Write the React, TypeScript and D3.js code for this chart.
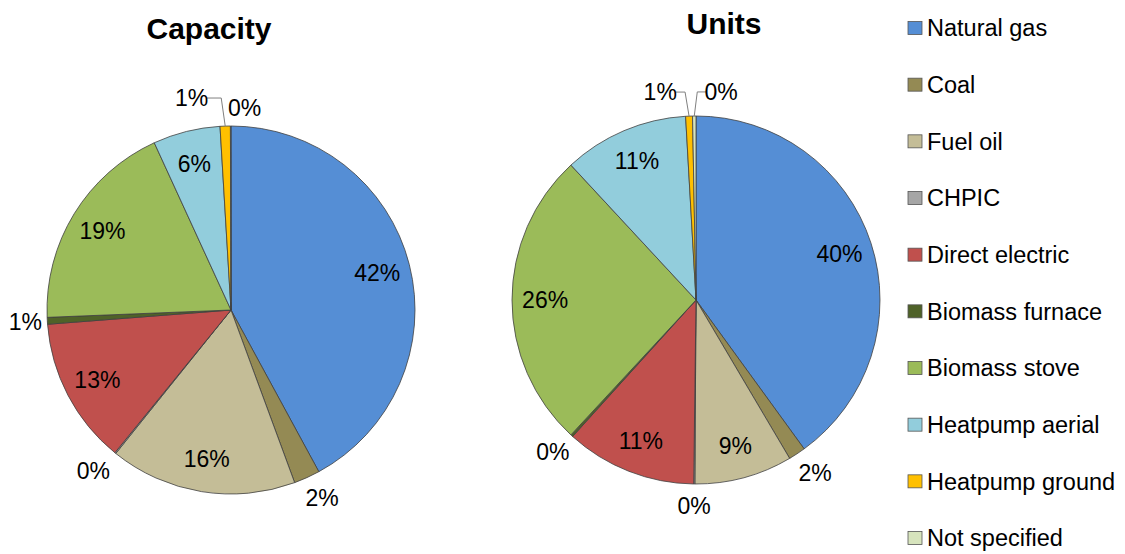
import * as d3 from "d3";

// categories in legend / slice order (clockwise from 12 o'clock)
const categories = [
  "Natural gas",
  "Coal",
  "Fuel oil",
  "CHPIC",
  "Direct electric",
  "Biomass furnace",
  "Biomass stove",
  "Heatpump aerial",
  "Heatpump ground",
  "Not specified",
];

const colors = [
  "#558ED5",
  "#948A54",
  "#C4BD97",
  "#A6A6A6",
  "#C0504D",
  "#4F6228",
  "#9BBB59",
  "#92CDDC",
  "#FFC000",
  "#D7E4BD",
];

// shares in percent
const capacityShares = [42.1, 2.3, 16.4, 0.1, 12.9, 0.6, 18.8, 5.9, 0.9, 0.05];
const unitShares = [40.0, 1.5, 8.6, 0.1, 11.5, 0.2, 26.2, 11.0, 0.6, 0.3];

const capacityLabels = ["42%", "2%", "16%", "0%", "13%", "1%", "19%", "6%", "1%", "0%"];
const unitLabels = ["40%", "2%", "9%", "0%", "11%", "0%", "26%", "11%", "1%", "0%"];

type Placement = { outside: boolean; dx?: number; dy?: number; leader?: boolean };

const capacityPlacement: Placement[] = [
  { outside: false },
  { outside: true, dx: 6 },
  { outside: false },
  { outside: true, dx: -8 },
  { outside: false },
  { outside: true },
  { outside: false },
  { outside: false },
  { outside: true, dx: -33, dy: -6, leader: true },
  { outside: true, dx: 14, dy: 4 },
];

const unitPlacement: Placement[] = [
  { outside: false },
  { outside: true, dx: 6 },
  { outside: false },
  { outside: true },
  { outside: false },
  { outside: true, dx: -4 },
  { outside: false },
  { outside: false },
  { outside: true, dx: -28, dy: -2, leader: true },
  { outside: true, dx: 27, dy: -2, leader: true },
];

const W = 1125;
const H = 554;
const R = 184;
const FONT = "'Liberation Sans', Arial, sans-serif";

type PieProps = {
  title: string;
  cx: number;
  cy: number;
  titleX: number;
  titleY: number;
  values: number[];
  labels: string[];
  placement: Placement[];
};

function Pie({ title, cx, cy, titleX, titleY, values, labels, placement }: PieProps) {
  const pie = d3
    .pie<number>()
    .sort(null)
    .value((d) => d)
    .startAngle(0)
    .endAngle(2 * Math.PI);
  const arcs = pie(values);
  const arc = d3.arc<d3.PieArcDatum<number>>().innerRadius(0).outerRadius(R);
  const inArc = d3.arc<d3.PieArcDatum<number>>().innerRadius(R * 0.82).outerRadius(R * 0.82);
  const outArc = d3.arc<d3.PieArcDatum<number>>().innerRadius(R * 1.12).outerRadius(R * 1.12);
  const edgeArc = d3.arc<d3.PieArcDatum<number>>().innerRadius(R).outerRadius(R);

  return (
    <g>
      <text
        x={titleX}
        y={titleY}
        textAnchor="middle"
        fontFamily={FONT}
        fontWeight="bold"
        fontSize={30}
        fill="#000"
      >
        {title}
      </text>
      <g transform={`translate(${cx},${cy})`}>
        {arcs.map((a, i) => (
          <path key={i} d={arc(a) ?? ""} fill={colors[i]} stroke="#404040" strokeWidth={0.8} />
        ))}
        {arcs.map((a, i) => {
          const p = placement[i];
          const [bx, by] = (p.outside ? outArc : inArc).centroid(a);
          const x = bx + (p.dx ?? 0);
          const y = by + (p.dy ?? 0);
          let leader = null;
          if (p.leader) {
            const [ex, ey] = edgeArc.centroid(a);
            const half = 15;
            const left = (p.dx ?? 0) < 0;
            const sx = left ? x + half : x - half;
            const kx = left ? ex - 4 : ex + 3;
            leader = (
              <polyline
                points={`${sx},${y} ${kx},${y} ${ex},${ey}`}
                fill="none"
                stroke="#808080"
                strokeWidth={1}
              />
            );
          }
          return (
            <g key={`l${i}`}>
              {leader}
              <text
                x={x}
                y={y}
                dy="0.36em"
                textAnchor="middle"
                fontFamily={FONT}
                fontSize={23}
                fill="#000"
              >
                {labels[i]}
              </text>
            </g>
          );
        })}
      </g>
    </g>
  );
}

export default function App() {
  const rowY = d3
    .scalePoint<string>()
    .domain(categories)
    .range([28, 538]);

  return (
    <svg
      width={W}
      height={H}
      style={{ position: "absolute", left: 0, top: 0, background: "#fff" }}
    >
      <rect width={W} height={H} fill="#fff" />
      <Pie
        title="Capacity"
        cx={231}
        cy={310}
        titleX={209}
        titleY={39}
        values={capacityShares}
        labels={capacityLabels}
        placement={capacityPlacement}
      />
      <Pie
        title="Units"
        cx={696}
        cy={300}
        titleX={724}
        titleY={34}
        values={unitShares}
        labels={unitLabels}
        placement={unitPlacement}
      />
      <g>
        {categories.map((c, i) => {
          const y = rowY(c) ?? 0;
          return (
            <g key={c}>
              <rect
                x={908}
                y={y - 6.5}
                width={14}
                height={13}
                fill={colors[i]}
                stroke="#555"
                strokeWidth={0.8}
              />
              <text x={927} y={y} dy="0.36em" fontFamily={FONT} fontSize={23.5} fill="#000">
                {c}
              </text>
            </g>
          );
        })}
      </g>
    </svg>
  );
}
